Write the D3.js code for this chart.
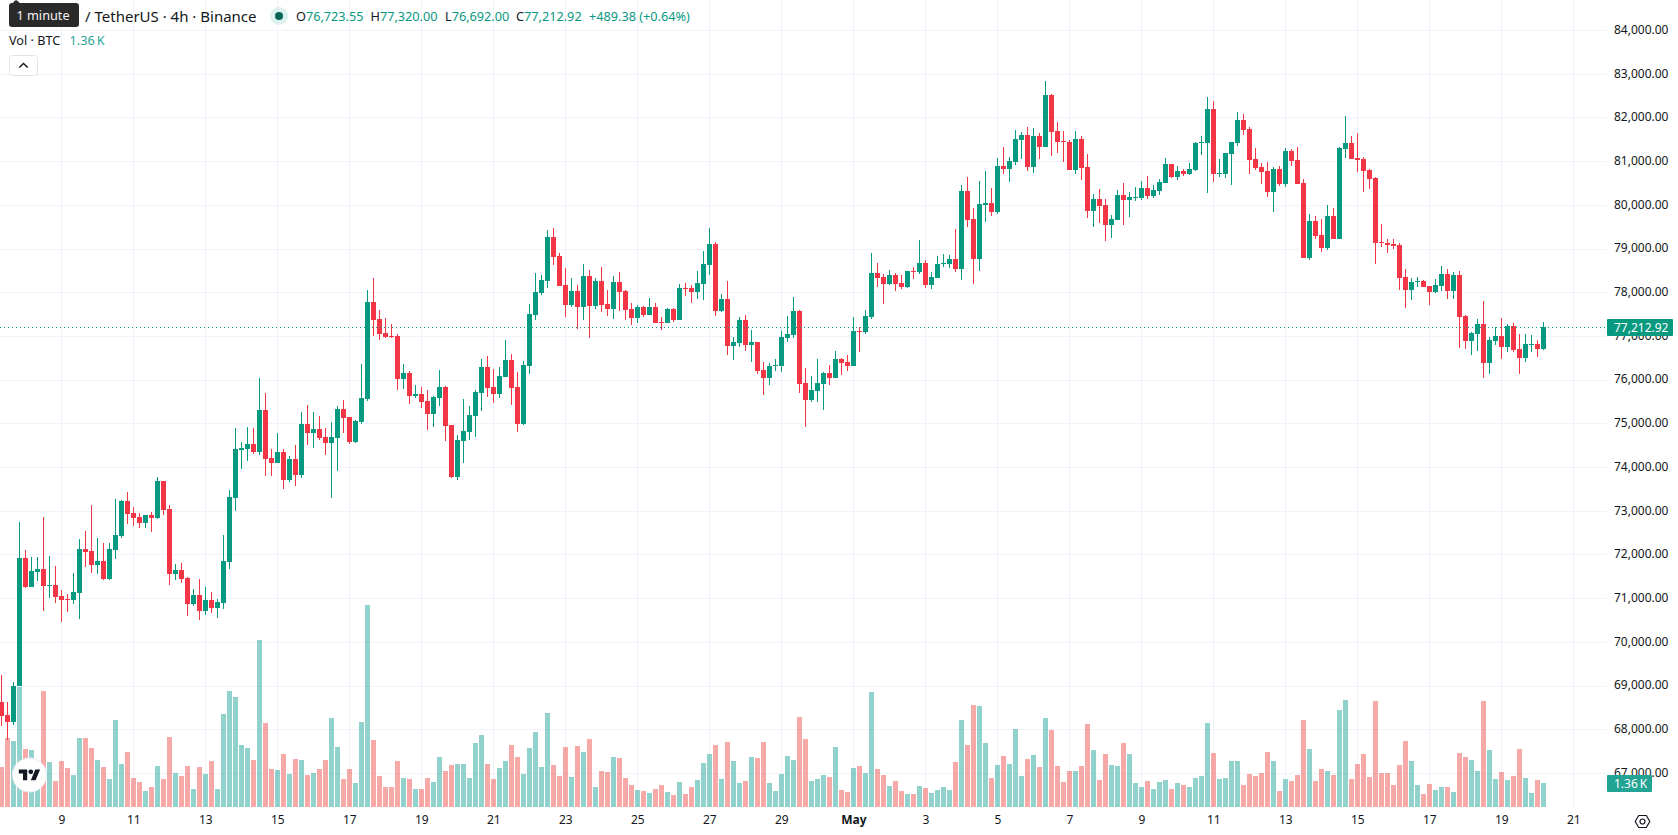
<!DOCTYPE html>
<html>
<head>
<meta charset="utf-8">
<title>BTC / USDT 4h</title>
<script src="https://cdnjs.cloudflare.com/ajax/libs/d3/7.9.0/d3.min.js"></script>
<style>
html,body{margin:0;padding:0;background:#fff;overflow:hidden}
svg{display:block;font-family:"Noto Sans",sans-serif}
.axis text{fill:#131722;font-size:12px;font-family:"Noto Sans",sans-serif}
</style>
</head>
<body>
<div id="chart"></div>
<script>
// Four-hour bars, oldest first. The first bar opens at 08:00 UTC on 7 April.
const opens = [
68644,68347,68171,68995,71941,71277,71620,71689,71300,71323,
71071,71002,70979,71139,72147,72101,71780,71872,71460,72124,
72444,73245,72971,72879,72742,72925,72856,73703,73062,71574,
71666,71483,70888,71094,70727,70979,70796,70911,71849,73314,
74413,74436,74550,74367,75328,74222,74107,74359,73718,74199,
73833,75000,74794,74886,74703,74565,74680,75343,75160,74588,
75046,75572,77793,77404,77083,77014,77014,76030,76167,75641,
75687,75527,75229,75595,75847,74977,73787,74611,74817,75183,
75710,76305,75847,75687,76076,76465,75847,75000,76328,77495,
78000,78273,79282,78847,78183,77725,78046,77680,78389,77703,
78275,77748,77634,78252,78046,77634,77428,77680,77496,77680,
77336,77313,77634,77382,78114,78114,78023,78206,78641,79122,
77588,77863,76787,76855,77382,76810,76878,76238,76054,76330,
76329,76970,77039,77588,75940,75551,75757,75917,76169,76054,
76489,76420,76332,77133,77110,77453,78460,78369,78209,78415,
78231,78140,78506,78483,78689,78186,78346,78666,78666,78781,
78552,80337,79696,78781,80017,80063,79857,80910,80841,81001,
81505,81619,80887,81596,81344,82535,81711,81482,81459,80818,
81528,80887,79879,80154,80017,79559,79673,80246,80131,80176,
80176,80405,80222,80336,80519,80954,80657,80794,80725,80817,
81435,81435,82213,80725,80725,81183,81435,81961,81755,81069,
80886,80794,80313,80840,80496,81252,81046,80519,78803,79650,
79329,79031,79764,79238,81298,81435,81092,81069,80817,80634,
79169,79146,79123,79100,78359,78062,78245,78268,78153,78016,
78153,78428,78039,78405,77467,76894,77055,77284,76391,76894,
77009,76757,77238,76711,76505,76803,76826,76723.55];

const highs = [
69262,68644,69102,72757,72124,71964,71964,72879,71986,71757,
71208,71117,71597,72376,72559,73154,72398,72284,72284,73291,
73268,73451,73108,72971,72925,72994,73795,73703,73154,71803,
71826,71506,71231,71460,71277,71162,71002,72467,73497,74916,
74596,74939,74916,76040,75695,74428,74794,74428,74268,74519,
75275,75435,75275,75183,74908,75046,75412,75549,75160,75092,
76373,78067,78342,77610,77426,77289,77060,76373,76213,75893,
75847,75778,75641,76236,75870,74977,74748,75572,75412,75778,
76488,76557,76259,76305,76923,76602,76190,76442,77747,78456,
78411,79440,79488,78916,78572,78343,78183,78664,78527,78343,
78595,78069,78389,78481,78069,77771,77725,77703,77886,77771,
77451,77657,77657,78206,78229,78183,78504,78961,79488,79167,
77977,78275,76993,77451,77497,77153,76878,76421,76398,76489,
77130,77474,77908,77611,76283,76100,76489,76192,76352,76672,
76512,76581,77453,77224,77613,78918,78689,78437,78529,78460,
78415,78506,78598,79216,78758,78483,78849,78895,78872,79468,
80475,80658,79948,80566,80795,80406,81093,81344,81116,81734,
81688,81802,81779,81665,82855,82558,81917,81711,81505,81711,
81596,81184,80269,80383,80154,79788,80360,80520,80315,80428,
80565,80680,80474,80611,81092,80954,80908,80840,80977,81458,
81595,82488,82396,81069,81206,81458,82144,82099,81801,81320,
80977,81000,80886,80908,81320,81298,81343,80611,79810,79764,
79695,80016,79947,81343,82053,81595,81664,81114,80840,80657,
79581,79238,79238,79146,78543,78337,78359,78291,78153,78314,
78611,78543,78474,78497,77490,77101,77398,77810,76986,77215,
77421,77284,77307,77055,77055,77032,76917,77320];

const lows = [
68080,67759,68103,68995,71246,71277,71414,70727,71025,70911,
70476,70705,70888,70544,71735,71597,71574,71437,71437,71918,
72398,72719,72673,72627,72627,72536,72833,72925,71323,71437,
71368,70613,70842,70521,70636,70682,70567,70773,71689,73016,
73978,74161,74321,74298,73818,73810,74107,73512,73672,73581,
73764,74519,74451,74634,74290,73306,73924,74794,74542,74565,
75000,75527,77014,76923,76968,76968,75778,75801,75458,75595,
75366,74863,74931,75412,74611,73764,73718,74107,74634,74703,
75298,75618,75481,75595,76076,75435,74817,74977,76145,77381,
77953,78113,78641,78160,77451,77680,77176,77382,76970,77634,
77565,77474,77405,77588,77382,77268,77313,77451,77496,77313,
77153,77313,77336,77382,77931,77771,77863,77840,78412,77474,
77565,76581,76466,76764,76672,76421,76146,75665,75894,76215,
76192,76878,76970,75711,74933,75505,75505,75322,75894,76054,
76123,76215,76332,76652,77064,77407,78140,77751,78186,78048,
78094,78117,78323,78437,78117,78094,78346,78598,78575,78483,
78300,79513,78209,78506,79628,79765,79811,80726,80543,80932,
81070,80795,80749,81070,81344,81139,81207,81001,80818,80726,
80589,79719,79513,79605,79193,79261,79673,79559,79742,80107,
80130,80153,80176,80245,80519,80634,80588,80680,80703,80794,
81160,80290,80542,80657,80634,80474,81366,81618,80725,80817,
80496,80199,79856,80451,80428,80908,80496,78803,78757,79238,
78940,78986,79238,79238,81092,81069,80771,80313,80382,78665,
79054,78917,79008,78070,77650,77833,78131,78131,77719,77993,
78039,77856,77856,76734,76711,76574,76666,76048,76139,76803,
76482,76643,76643,76139,76414,76643,76528,76692];

const closes = [
68324,68171,69011,71941,71277,71643,71689,71300,71323,71048,
70979,70979,71162,72147,72078,71780,71872,71460,72147,72467,
73245,72948,72856,72742,72925,72856,73703,73039,71574,71666,
71460,70888,71094,70727,70979,70796,70933,71872,73337,74436,
74458,74550,74367,75328,74207,74107,74359,73718,74199,73833,
75000,74794,74886,74680,74565,74703,75343,75137,74588,75069,
75595,77793,77381,77060,76991,76991,76030,76167,75641,75687,
75504,75229,75618,75847,74954,73787,74634,74840,75206,75733,
76305,75824,75687,76099,76465,75824,75000,76351,77518,78022,
78296,79282,78824,78160,77725,78046,77680,78389,77703,78275,
77725,77634,78252,78023,77611,77428,77680,77496,77680,77313,
77313,77634,77382,78114,78092,78023,78229,78664,79122,77588,
77863,76787,76878,77382,76810,76878,76215,76054,76329,76352,
76993,77061,77588,75917,75551,75780,75940,76169,76054,76489,
76398,76329,77133,77110,77476,78460,78346,78209,78415,78209,
78140,78506,78483,78689,78186,78369,78666,78689,78781,78552,
80337,79673,78781,80040,80063,79857,80910,80841,81024,81528,
81619,80887,81596,81344,82535,81688,81459,81459,80818,81528,
80864,79879,80154,79994,79559,79696,80246,80131,80200,80199,
80405,80222,80359,80542,80954,80657,80794,80725,80840,81435,
81458,82213,80725,80748,81206,81458,81961,81733,81046,80863,
80771,80313,80840,80496,81252,81023,80496,78803,79650,79306,
79031,79764,79238,81320,81435,81069,81046,80794,80611,79146,
79146,79100,79077,78337,78062,78245,78268,78131,78016,78176,
78428,78039,78405,77444,76894,77078,77284,76391,76917,77009,
76757,77238,76689,76505,76826,76826,76711,77212.92];

// Traded volume per bar, in BTC.
const volumes = [
2270,3910,3740,6820,3290,3230,1700,6570,2550,1470,
2610,2210,1810,3910,3910,3340,2660,2270,1590,4930,
2440,3120,1640,1420,910,1130,2320,1590,3970,1930,
1760,2320,1020,2270,1870,2610,1020,5270,6570,6230,
3510,3340,2660,9460,4760,2150,2100,3000,1870,2720,
2660,1810,1930,2150,2660,5040,3400,1590,2150,1360,
4820,11450,3800,1760,1130,1130,2610,1640,1590,1020,
1020,1640,1420,2830,2040,2380,2440,2440,1640,3630,
4080,2440,1590,2210,2610,3510,2830,1870,3340,4250,
2270,5330,2380,1760,3400,1700,3460,3120,3850,1130,
2040,1980,2830,2780,1640,1250,960,910,790,1020,
1250,850,680,1420,740,1130,1530,2490,3000,3510,
1590,3680,2610,1360,1470,2830,2780,3680,1360,910,
1870,2890,2660,5100,3850,1470,1590,1810,1700,3400,
960,850,2210,2320,1930,6520,2150,1810,1190,1470,
910,740,740,1190,1080,790,960,1130,960,2550,
4930,3510,5780,5720,3630,1640,2380,2890,2440,4420,
1760,2720,2950,2270,5040,4360,2320,1420,2040,2040,
2320,4700,3230,1530,3000,2380,2320,3630,3000,1360,
1130,1470,1020,1420,1530,1020,1360,1250,1130,1640,
1760,4760,3060,1590,1640,2610,2610,1250,1870,1760,
1930,3120,2610,910,1590,1470,1810,4930,3290,1470,
2150,2040,1810,5500,6060,1590,2440,3000,1700,6010,
1930,1930,1250,2380,3740,2610,1250,740,1300,960,
1130,1130,850,3060,2830,2660,2040,6010,3230,1590,
1980,1530,1760,3290,1640,790,1530,1360];

const priceTicks = d3.range(67000, 84001, 1000);
const dayLabels = ["9","11","13","15","17","19","21","23","25","27","29","May","3","5","7","9","11","13","15","17","19","21"];
const dayTicks = dayLabels.map((_, i) => new Date(Date.UTC(2025, 3, 9 + 2 * i)));
const lastPriceLabel = "77,212.92";
const lastVolumeLabel = "1.36\u2009K";

const UP = "#089981", DOWN = "#f23645", GRID = "#f0f3fa", INK = "#131722";
const width = 1678, height = 835, plotRight = 1607, baseline = 807;

const firstBar = new Date(Date.UTC(2025, 3, 7, 8));
const barTime = i => d3.utcHour.offset(firstBar, 4 * i);
const x = d3.scaleUtc().domain([firstBar, barTime(opens.length - 1)]).range([1.33, 1543.33]);
const y = d3.scaleLinear().domain([84000, 67000]).range([30.5, 773.5]);
const vol = d3.scaleLinear().domain([0, 11450]).range([baseline, baseline - 202]);

const bars = opens.map((o, i) => ({o, h: highs[i], l: lows[i], c: closes[i], v: volumes[i], t: barTime(i)}));
const isUp = d => d.c >= d.o;
const px = d => Math.floor(x(d.t));

const svg = d3.select("#chart").append("svg").attr("width", width).attr("height", height);

// Grid
const grid = svg.append("g").attr("stroke", GRID).attr("stroke-width", 1);
grid.selectAll(".h").data(priceTicks).join("line")
  .attr("x1", 0).attr("x2", plotRight)
  .attr("y1", d => Math.floor(y(d)) + .5).attr("y2", d => Math.floor(y(d)) + .5);
grid.selectAll(".v").data(dayTicks).join("line")
  .attr("x1", d => Math.floor(x(d)) + .5).attr("x2", d => Math.floor(x(d)) + .5)
  .attr("y1", 0).attr("y2", baseline);

// Volume histogram
svg.append("g").attr("shape-rendering", "crispEdges").selectAll("rect").data(bars).join("rect")
  .attr("x", d => px(d) - 2).attr("width", 5)
  .attr("y", d => Math.round(vol(d.v))).attr("height", d => baseline - Math.round(vol(d.v)))
  .attr("fill", d => isUp(d) ? "#26a69a" : "#ef5350").attr("fill-opacity", .5);

// Candles
const candles = svg.append("g").attr("shape-rendering", "crispEdges");
candles.selectAll(".wick").data(bars).join("rect").attr("class", "wick")
  .attr("x", px).attr("width", 1)
  .attr("y", d => Math.round(y(d.h)))
  .attr("height", d => Math.max(1, Math.round(y(d.l)) - Math.round(y(d.h))))
  .attr("fill", d => isUp(d) ? UP : DOWN);
candles.selectAll(".body").data(bars).join("rect").attr("class", "body")
  .attr("x", d => px(d) - 2).attr("width", 5)
  .attr("y", d => Math.round(y(Math.max(d.o, d.c))))
  .attr("height", d => Math.max(1, Math.round(y(Math.min(d.o, d.c))) - Math.round(y(Math.max(d.o, d.c)))))
  .attr("fill", d => isUp(d) ? UP : DOWN);

// Last price line
const lastClose = closes[closes.length - 1];
svg.append("line")
  .attr("x1", 0).attr("x2", plotRight)
  .attr("y1", Math.floor(y(lastClose)) + .5).attr("y2", Math.floor(y(lastClose)) + .5)
  .attr("stroke", UP).attr("stroke-width", 1).attr("stroke-dasharray", "1 3");

// Price axis
const yAxis = svg.append("g").attr("class", "axis").attr("transform", `translate(${plotRight},-1)`)
  .call(d3.axisRight(y).tickValues(priceTicks).tickFormat(d3.format(",.2f")).tickSize(0).tickPadding(7));
yAxis.select(".domain").remove();

// Time axis
const xAxis = svg.append("g").attr("class", "axis").attr("transform", `translate(0,${baseline})`)
  .call(d3.axisBottom(x).tickValues(dayTicks).tickFormat((d, i) => dayLabels[i]).tickSize(0).tickPadding(8));
xAxis.select(".domain").remove();
xAxis.selectAll("text").attr("font-weight", (d, i) => dayLabels[i] === "May" ? 700 : 400)
  .style("font-weight", (d, i) => dayLabels[i] === "May" ? 700 : 400);

// Value flags on the price scale
svg.append("rect").attr("x", plotRight).attr("y", 319).attr("width", 66).attr("height", 17).attr("rx", 1).attr("fill", UP);
svg.append("text").attr("x", plotRight + 7).attr("y", 331.5).attr("fill", "#fff").attr("font-size", 12).text(lastPriceLabel);
svg.append("rect").attr("x", plotRight).attr("y", 775).attr("width", 45).attr("height", 17).attr("rx", 1).attr("fill", "#22a393");
svg.append("text").attr("x", plotRight + 7).attr("y", 787.5).attr("fill", "#fff").attr("font-size", 12).text(lastVolumeLabel);

// Settings hexagon in the scale corner
const hex = svg.append("g").attr("transform", "translate(1642.5,821.5)").attr("fill", "none").attr("stroke", INK).attr("stroke-width", 1.2);
hex.append("path").attr("d", "M-7.3 0L-3.8 -6H3.8L7.3 0L3.8 6H-3.8Z").attr("stroke-linejoin", "round");
hex.append("circle").attr("r", 2.5);

// Logo badge
const badge = svg.append("g");
badge.append("circle").attr("cx", 29.5).attr("cy", 775).attr("r", 17).attr("fill", "#fff").attr("stroke", "#eceef2").attr("stroke-width", 1);
const mark = badge.append("g").attr("transform", "translate(18.8,767) scale(.6)").attr("fill", INK);
mark.append("path").attr("d", "M14 22H7V11H0V4h14v18zM28 22h-8l7.5-18h8L28 22z");
mark.append("circle").attr("cx", 20).attr("cy", 8).attr("r", 4);

// Legend
const TEAL_TEXT = "#089981";
svg.append("text").attr("x", 85).attr("y", 21.5).attr("font-size", 15).attr("fill", INK)
  .text("/ TetherUS · 4h · Binance");
svg.append("circle").attr("cx", 279).attr("cy", 16).attr("r", 9).attr("fill", "#dff1ee");
svg.append("circle").attr("cx", 279).attr("cy", 16).attr("r", 4).attr("fill", "#056656");
const ohlc = [["O", "76,723.55", 296], ["H", "77,320.00", 370.5], ["L", "76,692.00", 445], ["C", "77,212.92", 516]];
ohlc.forEach(([k, v, px0]) => {
  const t = svg.append("text").attr("x", px0).attr("y", 21).attr("font-size", 12.7);
  t.append("tspan").attr("fill", INK).text(k);
  t.append("tspan").attr("fill", TEAL_TEXT).text(v);
});
svg.append("text").attr("x", 589).attr("y", 21).attr("font-size", 12.7).attr("fill", TEAL_TEXT).text("+489.38 (+0.64%)");
svg.append("text").attr("x", 9).attr("y", 44.5).attr("font-size", 12.7).attr("fill", INK).text("Vol · BTC");
svg.append("text").attr("x", 69.5).attr("y", 44.5).attr("font-size", 12.7).attr("fill", "#26a69a").text("1.36\u2009K");

// Collapse button
svg.append("rect").attr("x", 9.5).attr("y", 55.5).attr("width", 28).attr("height", 20).attr("rx", 3).attr("fill", "#fff").attr("stroke", "#e0e3eb");
svg.append("path").attr("d", "M19.3 67.5L23.5 63.5L27.7 67.5").attr("fill", "none").attr("stroke", INK).attr("stroke-width", 1.4);

// Tooltip over the symbol name
svg.append("path").attr("d", "M11 5L15 0.5Q16 0 17 0.5L22 5Z").attr("fill", "#2a2a2a");
svg.append("rect").attr("x", 9).attr("y", 3).attr("width", 70).attr("height", 24).attr("rx", 3).attr("fill", "#2a2a2a");
svg.append("text").attr("x", 43).attr("y", 19.5).attr("text-anchor", "middle").attr("font-size", 12.7).attr("fill", "#f4f4f4").text("1 minute");
</script>
</body>
</html>
